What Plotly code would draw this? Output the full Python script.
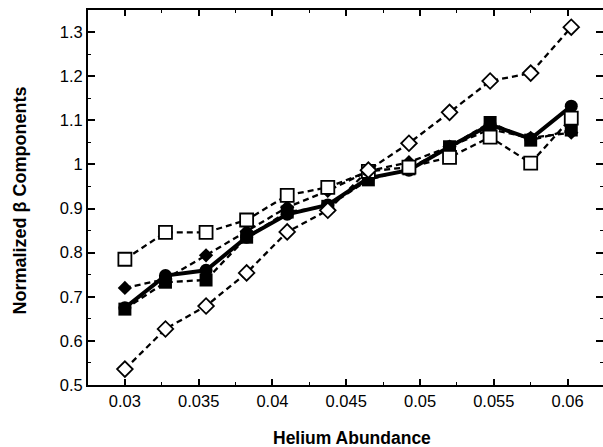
import plotly.graph_objects as go

helium = [0.03, 0.03275, 0.0355, 0.03825, 0.041, 0.04375, 0.0465, 0.04925, 0.052, 0.05475, 0.0575, 0.06025]

open_diamond = [0.536, 0.627, 0.679, 0.754, 0.847, 0.896, 0.987, 1.048, 1.118, 1.189, 1.207, 1.311]
open_square = [0.785, 0.846, 0.846, 0.874, 0.930, 0.948, 0.984, 0.994, 1.016, 1.062, 1.003, 1.105]
filled_diamond = [0.720, 0.740, 0.794, 0.848, 0.903, 0.940, 0.985, 1.005, 1.040, 1.080, 1.060, 1.072]
filled_square = [0.672, 0.733, 0.738, 0.835, 0.892, 0.905, 0.965, 0.990, 1.040, 1.095, 1.055, 1.078]
filled_circle = [0.675, 0.748, 0.760, 0.835, 0.887, 0.908, 0.969, 0.987, 1.040, 1.090, 1.058, 1.132]

x_title = "Helium Abundance"
y_title = "Normalized β Components"

DASH = "6px,4px"
FONT = "Liberation Sans, Arial, sans-serif"

fig = go.Figure()

fig.add_trace(go.Scatter(
    x=helium, y=filled_square, mode="lines+markers",
    line=dict(color="black", width=2.3, dash=DASH),
    marker=dict(symbol="square", size=13, color="black"),
))
fig.add_trace(go.Scatter(
    x=helium, y=filled_diamond, mode="lines+markers",
    line=dict(color="black", width=2.3, dash=DASH),
    marker=dict(symbol="diamond", size=11, color="black"),
))
fig.add_trace(go.Scatter(
    x=helium, y=filled_circle, mode="lines+markers",
    line=dict(color="black", width=4),
    marker=dict(symbol="circle", size=13, color="black"),
))
fig.add_trace(go.Scatter(
    x=helium, y=open_square, mode="lines+markers",
    line=dict(color="black", width=2.3, dash=DASH),
    marker=dict(symbol="square", size=13, color="white", line=dict(color="black", width=1.8)),
))
fig.add_trace(go.Scatter(
    x=helium, y=open_diamond, mode="lines+markers",
    line=dict(color="black", width=2.3, dash=DASH),
    marker=dict(symbol="diamond", size=12, color="white", line=dict(color="black", width=1.8)),
))

fig.update_layout(
    width=603, height=447,
    margin=dict(l=88, r=0, t=10, b=62, autoexpand=False),
    paper_bgcolor="white", plot_bgcolor="white",
    showlegend=False,
    font=dict(family=FONT, size=16, color="black"),
    annotations=[
        dict(text=x_title, xref="paper", yref="paper", x=0.5, y=0,
             xanchor="center", yanchor="middle", xshift=6, yshift=-53,
             showarrow=False, font=dict(size=17.5, weight="bold")),
        dict(text=y_title, xref="paper", yref="paper", x=0, y=0.5,
             xanchor="center", yanchor="middle", xshift=-69, yshift=-3,
             textangle=-90, showarrow=False, font=dict(size=18, weight="bold")),
    ],
)

fig.update_xaxes(
    range=[0.0275, 0.0624], tick0=0.03, dtick=0.005,
    showgrid=False, zeroline=False,
    showline=True, linecolor="black", linewidth=2, mirror="allticks",
    ticks="inside", ticklen=6, tickwidth=1.5, tickcolor="black",
    minor=dict(ticks="inside", ticklen=3, tickwidth=1.2, tickcolor="black", dtick=0.0025, tick0=0.0275),
    tickfont=dict(size=16.5),
)
fig.update_yaxes(
    range=[0.5, 1.35], tick0=0.5, dtick=0.1,
    showgrid=False, zeroline=False,
    showline=True, linecolor="black", linewidth=2, mirror="allticks",
    ticks="inside", ticklen=7, tickwidth=1.5, tickcolor="black",
    minor=dict(ticks="inside", ticklen=3, tickwidth=1.2, tickcolor="black", dtick=0.05, tick0=0.5),
    tickfont=dict(size=16.5),
)

fig.write_html("out.html")
